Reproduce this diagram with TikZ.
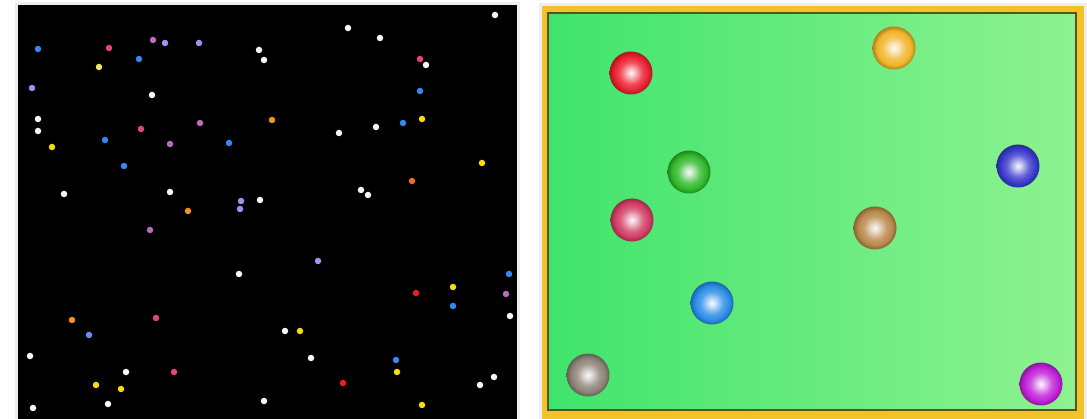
\documentclass[tikz,border=0pt]{standalone}
\usetikzlibrary{positioning}
% dot colours (left panel)
\definecolor{cwhite}{HTML}{F6F6F6}
\definecolor{cblue}{HTML}{3A86F0}
\definecolor{cpink}{HTML}{E04870}
\definecolor{clav}{HTML}{9C94F4}
\definecolor{cpurp}{HTML}{B86CC0}
\definecolor{cyel}{HTML}{F4DC10}
\definecolor{cpale}{HTML}{E8E868}
\definecolor{corange}{HTML}{F0941C}
\definecolor{corred}{HTML}{F06C22}
\definecolor{cred}{HTML}{F01C1C}
\definecolor{cslate}{HTML}{6E8CF0}
% ball colours (right panel)
\definecolor{bred}{HTML}{EC2030}
\definecolor{bgreen}{HTML}{30B82A}
\definecolor{bcrim}{HTML}{D23C64}
\definecolor{bblue}{HTML}{2A8CE8}
\definecolor{bgrey}{HTML}{8C8276}
\definecolor{bgold}{HTML}{F0B428}
\definecolor{bindigo}{HTML}{3A3ACC}
\definecolor{btan}{HTML}{B8884A}
\definecolor{bmag}{HTML}{C020D8}
\definecolor{cgold}{HTML}{F2C22A}
\definecolor{cedge}{HTML}{5A5220}
\definecolor{cfeltL}{HTML}{40E46C}
\definecolor{cfeltR}{HTML}{8EF291}
\colorlet{ballc}{red}
\pgfdeclareradialshading[ballc]{ballshade}{\pgfpoint{0bp}{0bp}}{%
  color(0bp)=(ballc!5!white); color(3bp)=(ballc!20!white); color(13bp)=(ballc!80!white);
  color(20bp)=(ballc); color(25bp)=(ballc!72!black); color(50bp)=(ballc!72!black)}
\tikzset{
  dot/.style={circle, fill=#1, inner sep=0pt, minimum size=6.5pt},
  ball/.style={circle, inner sep=0pt, minimum size=43pt, /utils/exec={\colorlet{ballc}{#1}}, shading=ballshade},
  panel/.style={fill=black},
}

\begin{document}
\begin{tikzpicture}[x=1pt, y=-1pt]
  \useasboundingbox[fill=white] (0,0) rectangle (1087,419);
  % left panel: many small particles
  \fill[black!7] (15,2) rectangle (520,419);
  \fill[panel] (18,5) rectangle (517,419);
  \foreach \x/\y/\c [count=\i] in {
    38/49/cblue, 109/48/cpink, 153/40/cpurp, 165/43/clav, 199/43/clav,
    259/50/cwhite, 264/60/cwhite, 99/67/cpale, 139/59/cblue, 32/88/clav,
    152/95/cwhite, 38/119/cwhite, 38/131/cwhite, 141/129/cpink, 200/123/cpurp,
    272/120/corange, 52/147/cyel, 105/140/cblue, 170/144/cpurp, 229/143/cblue,
    124/166/cblue, 64/194/cwhite, 170/192/cwhite, 241/201/clav, 260/200/cwhite,
    240/209/clav, 188/211/corange,
    495/15/cwhite, 348/28/cwhite, 380/38/cwhite, 420/59/cpink, 426/65/cwhite,
    420/91/cblue, 422/119/cyel, 403/123/cblue, 376/127/cwhite, 339/133/cwhite,
    482/163/cyel, 412/181/corred, 361/190/cwhite, 368/195/cwhite,
    150/230/cpurp, 239/274/cwhite, 72/320/corange, 156/318/cpink, 89/335/cslate,
    30/356/cwhite, 126/372/cwhite, 174/372/cpink, 96/385/cyel, 121/389/cyel,
    108/404/cwhite, 33/408/cwhite, 264/401/cwhite,
    318/261/clav, 509/274/cblue, 453/287/cyel, 416/293/cred, 506/294/cpurp,
    453/306/cblue, 510/316/cwhite, 285/331/cwhite, 300/331/cyel, 311/358/cwhite,
    396/360/cblue, 397/372/cyel, 343/383/cred, 494/377/cwhite, 480/385/cwhite,
    422/405/cyel}
    \node[dot=\c] (dot\i) at (\x,\y) {};
  % right panel: billiard table with balls
  \fill[black!7] (539,3) rectangle (1087,419);
  \fill[cgold] (542,6) rectangle (1084,419);
  \shade[left color=cfeltL, right color=cfeltR] (548,13) rectangle (1076,410);
  \draw[cedge, line width=1.8pt] (548,13) rectangle (1076,410);
  \node[ball=bred] (red) at (631,73) {};
  \node[ball=bgold] (gold) at (894,48) {};
  \node[ball=bgreen] (green) at (689,172) {};
  \node[ball=bindigo] (indigo) at (1018,166) {};
  \node[ball=bcrim] (crimson) at (632,220) {};
  \node[ball=btan] (tan) at (875,228) {};
  \node[ball=bblue] (blue) at (712,303) {};
  \node[ball=bgrey] (grey) at (588,375) {};
  \node[ball=bmag] (magenta) at (1041,384) {};
\end{tikzpicture}
\end{document}
